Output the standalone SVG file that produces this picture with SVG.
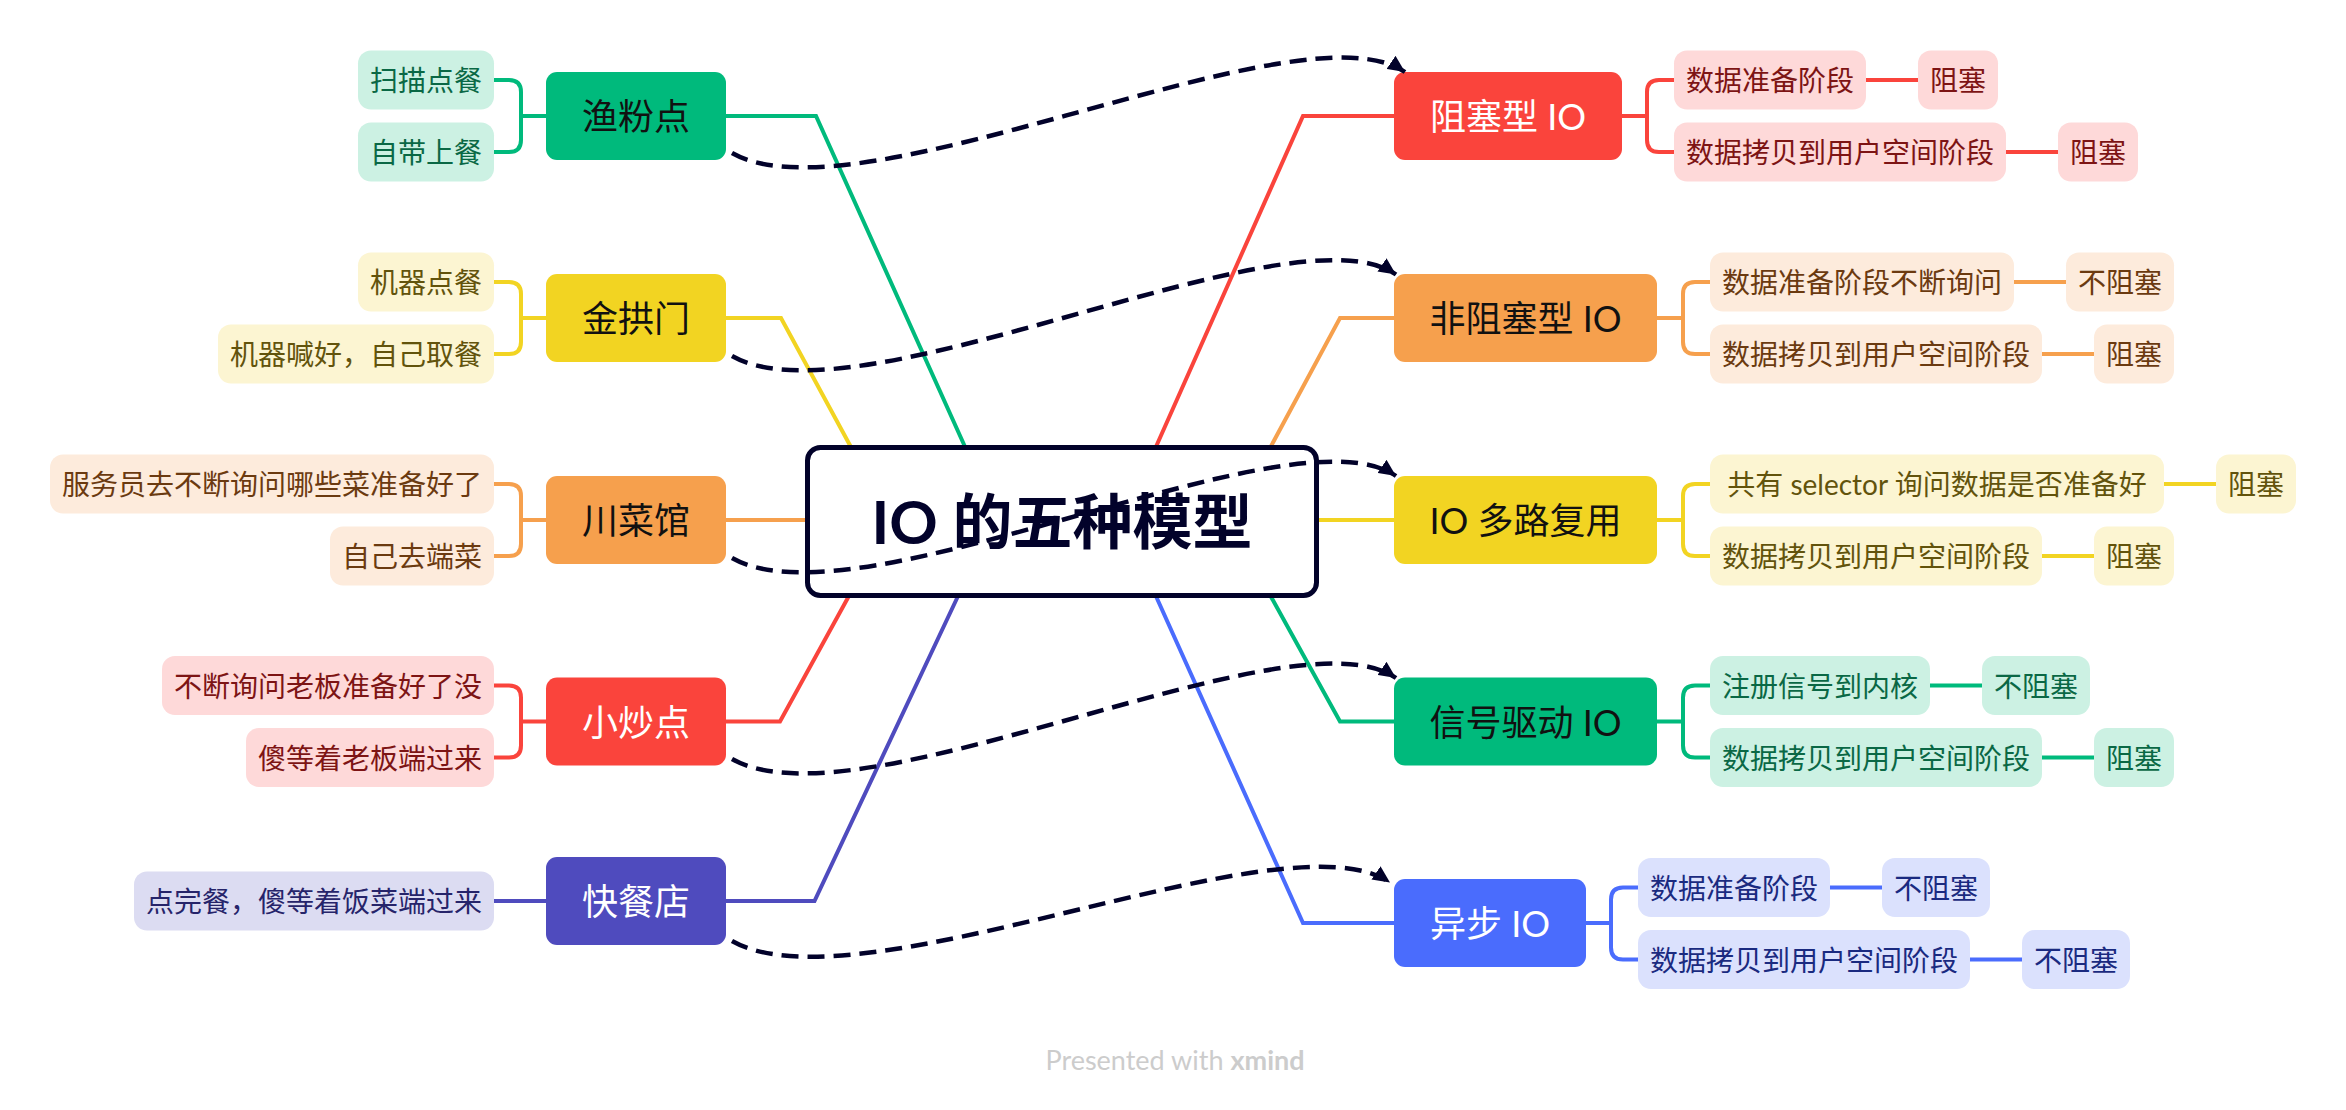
<svg xmlns="http://www.w3.org/2000/svg" width="2346" height="1110" viewBox="0 0 2346 1110">
<style>
text{font-family:Lato,"Noto Sans CJK SC",sans-serif;text-anchor:middle;dominant-baseline:central}
.mt{font-size:36px}
.lt{font-size:28px}
.ln{fill:none;stroke-width:4}
.rel{fill:none;stroke:#02022a;stroke-width:4.5;stroke-dasharray:17 9}
.g1{fill:#00ba7c}.g2{fill:#ccf1e3}.g3{fill:#0a6845}.gs{stroke:#00ba7c}
.y1{fill:#f2d422}.y2{fill:#fcf5d2}.y3{fill:#62530c}.ys{stroke:#f2d422}
.o1{fill:#f6a04d}.o2{fill:#fdebdc}.o3{fill:#6b3a10}.os{stroke:#f6a04d}
.r1{fill:#fa443c}.r2{fill:#fed9d9}.r3{fill:#7d1414}.rs{stroke:#fa443c}
.p1{fill:#4f4bbe}.p2{fill:#dcdcf2}.p3{fill:#26246a}.ps{stroke:#4f4bbe}
.b1{fill:#4a6cfd}.b2{fill:#dbe1fd}.b3{fill:#1a2a80}.bs{stroke:#4a6cfd}
.dk{fill:#111111}.wh{fill:#ffffff}
</style>
<defs>
<marker id="arr" markerUnits="userSpaceOnUse" markerWidth="20" markerHeight="16" refX="17" refY="8" orient="auto"><path d="M0,0 L17,8 L0,16 Z" fill="#02022a"/></marker>
</defs>
<rect width="2346" height="1110" fill="#ffffff"/>
<g id="connectors">
<path class="ln gs" d="M726,116H816L966,449"/>
<path class="ln ys" d="M726,318H781L852,449"/>
<path class="ln os" d="M726,520H810"/>
<path class="ln rs" d="M726,721.5H780L850,594"/>
<path class="ln ps" d="M726,901H814.5L959,594"/>
<path class="ln rs" d="M1394,116H1303L1155,449"/>
<path class="ln os" d="M1394,318H1340L1269.5,449"/>
<path class="ln ys" d="M1394,520H1314"/>
<path class="ln gs" d="M1394,721.5H1340L1269.5,594"/>
<path class="ln bs" d="M1394,923H1303L1155,594"/>
<path class="ln gs" d="M546,116H521M494,80H509Q521,80 521,92V140Q521,152 509,152H494"/>
<path class="ln ys" d="M546,318H521M494,282H509Q521,282 521,294V342Q521,354 509,354H494"/>
<path class="ln os" d="M546,520H521M494,484H509Q521,484 521,496V544Q521,556 509,556H494"/>
<path class="ln rs" d="M546,721.5H521M494,685.5H509Q521,685.5 521,697.5V745.5Q521,757.5 509,757.5H494"/>
<path class="ln ps" d="M546,901H494"/>
<path class="ln rs" d="M1622,116H1647M1674,80H1659Q1647,80 1647,92V140Q1647,152 1659,152H1674"/>
<path class="ln os" d="M1657,318H1683M1710,282H1695Q1683,282 1683,294V342Q1683,354 1695,354H1710"/>
<path class="ln ys" d="M1657,520H1683M1710,484H1695Q1683,484 1683,496V544Q1683,556 1695,556H1710"/>
<path class="ln gs" d="M1657,721.5H1683M1710,685.5H1695Q1683,685.5 1683,697.5V745.5Q1683,757.5 1695,757.5H1710"/>
<path class="ln bs" d="M1586,923H1611M1638,887.5H1623Q1611,887.5 1611,899.5V947.5Q1611,959.5 1623,959.5H1638"/>
<path class="ln rs" d="M1866,80H1918M2006,152H2058"/>
<path class="ln os" d="M2014,282H2066M2042,354H2094"/>
<path class="ln ys" d="M2164,484H2216M2042,556H2094"/>
<path class="ln gs" d="M1930,685.5H1982M2042,757.5H2094"/>
<path class="ln bs" d="M1830,887.5H1882M1970,959.5H2022"/>
</g>
<g id="central"><rect x="807.5" y="447.5" width="509" height="148" rx="13" fill="#ffffff" stroke="#02022a" stroke-width="5"/><text x="1062" y="521" font-size="60" font-weight="bold" fill="#02022a">IO 的五种模型</text></g>
<g id="n-yufen"><rect class="g1" x="546" y="72" width="180" height="88" rx="11"/><text class="mt dk" x="636" y="116">渔粉点</text></g>
<g id="n-jingongmen"><rect class="y1" x="546" y="274" width="180" height="88" rx="11"/><text class="mt dk" x="636" y="318">金拱门</text></g>
<g id="n-chuancai"><rect class="o1" x="546" y="476" width="180" height="88" rx="11"/><text class="mt dk" x="636" y="520">川菜馆</text></g>
<g id="n-xiaochao"><rect class="r1" x="546" y="677.5" width="180" height="88" rx="11"/><text class="mt wh" x="636" y="721.5">小炒点</text></g>
<g id="n-kuaican"><rect class="p1" x="546" y="857" width="180" height="88" rx="11"/><text class="mt wh" x="636" y="901">快餐店</text></g>
<g id="n-block"><rect class="r1" x="1394" y="72" width="228" height="88" rx="11"/><text class="mt wh" x="1508" y="116">阻塞型 IO</text></g>
<g id="n-nonblock"><rect class="o1" x="1394" y="274" width="263" height="88" rx="11"/><text class="mt dk" x="1525.5" y="318">非阻塞型 IO</text></g>
<g id="n-mux"><rect class="y1" x="1394" y="476" width="263" height="88" rx="11"/><text class="mt dk" x="1525.5" y="520">IO 多路复用</text></g>
<g id="n-signal"><rect class="g1" x="1394" y="677.5" width="263" height="88" rx="11"/><text class="mt dk" x="1525.5" y="721.5">信号驱动 IO</text></g>
<g id="n-async"><rect class="b1" x="1394" y="879" width="192" height="88" rx="11"/><text class="mt wh" x="1490" y="923">异步 IO</text></g>
<g id="l1"><rect class="g2" x="358" y="50.5" width="136" height="59" rx="13"/><text class="lt g3" x="426" y="80">扫描点餐</text></g>
<g id="l2"><rect class="g2" x="358" y="122.5" width="136" height="59" rx="13"/><text class="lt g3" x="426" y="152">自带上餐</text></g>
<g id="l3"><rect class="y2" x="358" y="252.5" width="136" height="59" rx="13"/><text class="lt y3" x="426" y="282">机器点餐</text></g>
<g id="l4"><rect class="y2" x="218" y="324.5" width="276" height="59" rx="13"/><text class="lt y3" x="356" y="354">机器喊好，自己取餐</text></g>
<g id="l5"><rect class="o2" x="50" y="454.5" width="444" height="59" rx="13"/><text class="lt o3" x="272" y="484">服务员去不断询问哪些菜准备好了</text></g>
<g id="l6"><rect class="o2" x="330" y="526.5" width="164" height="59" rx="13"/><text class="lt o3" x="412" y="556">自己去端菜</text></g>
<g id="l7"><rect class="r2" x="162" y="656" width="332" height="59" rx="13"/><text class="lt r3" x="328" y="685.5">不断询问老板准备好了没</text></g>
<g id="l8"><rect class="r2" x="246" y="728" width="248" height="59" rx="13"/><text class="lt r3" x="370" y="757.5">傻等着老板端过来</text></g>
<g id="l9"><rect class="p2" x="134" y="871.5" width="360" height="59" rx="13"/><text class="lt p3" x="314" y="901">点完餐，傻等着饭菜端过来</text></g>
<g id="r1a"><rect class="r2" x="1674" y="50.5" width="192" height="59" rx="13"/><text class="lt r3" x="1770" y="80">数据准备阶段</text></g>
<g id="r1b"><rect class="r2" x="1918" y="50.5" width="80" height="59" rx="13"/><text class="lt r3" x="1958" y="80">阻塞</text></g>
<g id="r2a"><rect class="r2" x="1674" y="122.5" width="332" height="59" rx="13"/><text class="lt r3" x="1840" y="152">数据拷贝到用户空间阶段</text></g>
<g id="r2b"><rect class="r2" x="2058" y="122.5" width="80" height="59" rx="13"/><text class="lt r3" x="2098" y="152">阻塞</text></g>
<g id="r3a"><rect class="o2" x="1710" y="252.5" width="304" height="59" rx="13"/><text class="lt o3" x="1862" y="282">数据准备阶段不断询问</text></g>
<g id="r3b"><rect class="o2" x="2066" y="252.5" width="108" height="59" rx="13"/><text class="lt o3" x="2120" y="282">不阻塞</text></g>
<g id="r4a"><rect class="o2" x="1710" y="324.5" width="332" height="59" rx="13"/><text class="lt o3" x="1876" y="354">数据拷贝到用户空间阶段</text></g>
<g id="r4b"><rect class="o2" x="2094" y="324.5" width="80" height="59" rx="13"/><text class="lt o3" x="2134" y="354">阻塞</text></g>
<g id="r5a"><rect class="y2" x="1710" y="454.5" width="454" height="59" rx="13"/><text class="lt y3" x="1937" y="484">共有 selector 询问数据是否准备好</text></g>
<g id="r5b"><rect class="y2" x="2216" y="454.5" width="80" height="59" rx="13"/><text class="lt y3" x="2256" y="484">阻塞</text></g>
<g id="r6a"><rect class="y2" x="1710" y="526.5" width="332" height="59" rx="13"/><text class="lt y3" x="1876" y="556">数据拷贝到用户空间阶段</text></g>
<g id="r6b"><rect class="y2" x="2094" y="526.5" width="80" height="59" rx="13"/><text class="lt y3" x="2134" y="556">阻塞</text></g>
<g id="r7a"><rect class="g2" x="1710" y="656" width="220" height="59" rx="13"/><text class="lt g3" x="1820" y="685.5">注册信号到内核</text></g>
<g id="r7b"><rect class="g2" x="1982" y="656" width="108" height="59" rx="13"/><text class="lt g3" x="2036" y="685.5">不阻塞</text></g>
<g id="r8a"><rect class="g2" x="1710" y="728" width="332" height="59" rx="13"/><text class="lt g3" x="1876" y="757.5">数据拷贝到用户空间阶段</text></g>
<g id="r8b"><rect class="g2" x="2094" y="728" width="80" height="59" rx="13"/><text class="lt g3" x="2134" y="757.5">阻塞</text></g>
<g id="r9a"><rect class="b2" x="1638" y="858" width="192" height="59" rx="13"/><text class="lt b3" x="1734" y="887.5">数据准备阶段</text></g>
<g id="r9b"><rect class="b2" x="1882" y="858" width="108" height="59" rx="13"/><text class="lt b3" x="1936" y="887.5">不阻塞</text></g>
<g id="r10a"><rect class="b2" x="1638" y="930" width="332" height="59" rx="13"/><text class="lt b3" x="1804" y="959.5">数据拷贝到用户空间阶段</text></g>
<g id="r10b"><rect class="b2" x="2022" y="930" width="108" height="59" rx="13"/><text class="lt b3" x="2076" y="959.5">不阻塞</text></g>
<g id="relationships">
<path class="rel" marker-end="url(#arr)" d="M732,153C860,225 1300,0 1405,72"/>
<path class="rel" marker-end="url(#arr)" d="M732,356C860,428 1291,202.5 1396,274.5"/>
<path class="rel" marker-end="url(#arr)" d="M732,558C860,630 1291,404 1396,476"/>
<path class="rel" marker-end="url(#arr)" d="M732,759C860,831 1291,606 1396,678"/>
<path class="rel" marker-end="url(#arr)" d="M732,941C860,1013 1285,810.5 1390,882.5"/>
</g>
<text x="1175" y="1059" font-size="27" fill="#cccccc">Presented with <tspan font-weight="bold">xmind</tspan></text>
</svg>
